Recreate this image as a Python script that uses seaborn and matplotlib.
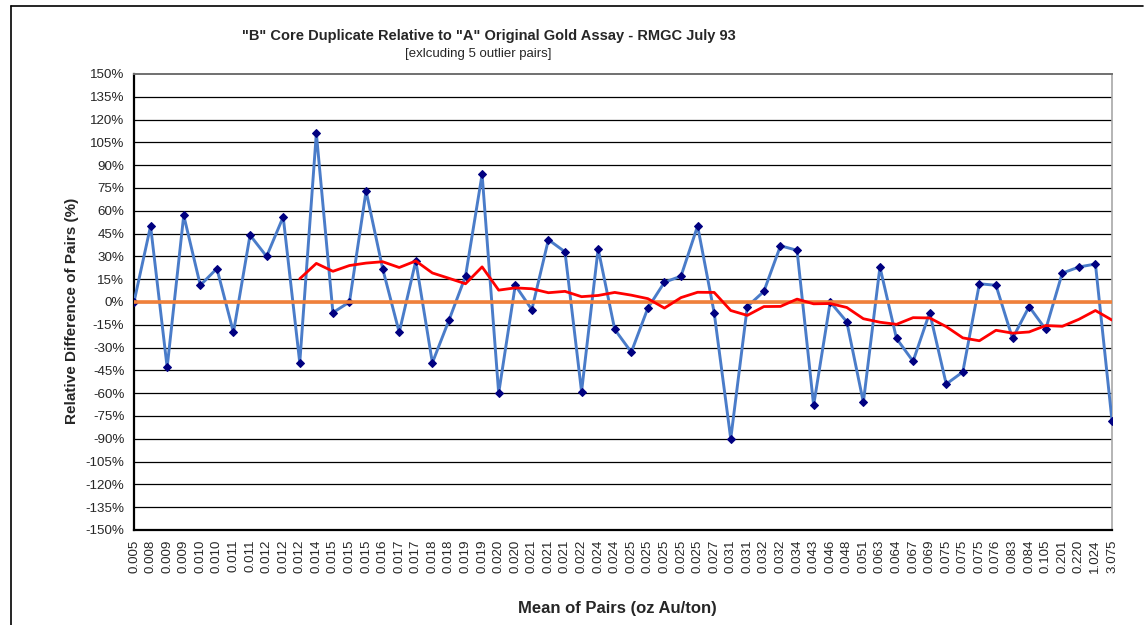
import numpy as np
import pandas as pd
import seaborn as sns
import matplotlib.pyplot as plt
from matplotlib.lines import Line2D

# Category labels (mean of pairs, oz Au/ton)
pair_means = ["0.005", "0.008", "0.009", "0.009", "0.010", "0.010", "0.011", "0.011",
              "0.012", "0.012", "0.012", "0.014", "0.015", "0.015", "0.015", "0.016",
              "0.017", "0.017", "0.018", "0.018", "0.019", "0.019", "0.020", "0.020",
              "0.021", "0.021", "0.021", "0.022", "0.024", "0.024", "0.025", "0.025",
              "0.025", "0.025", "0.025", "0.027", "0.031", "0.031", "0.032", "0.032",
              "0.034", "0.043", "0.046", "0.048", "0.051", "0.063", "0.064", "0.067",
              "0.069", "0.075", "0.075", "0.075", "0.076", "0.083", "0.084", "0.105",
              "0.201", "0.220", "1.024", "3.075"]

# Relative difference of pairs (%)
rel_diff = [0, 50, -43, 57, 11, 22, -20, 44, 30, 56,
            -40, 111, -7, 0, 73, 22, -20, 27, -40, -12,
            17, 84, -60, 11, -5, 41, 33, -59, 35, -18,
            -33, -4, 13, 17, 50, -7, -90, -3, 7, 37,
            34, -68, 0, -13, -66, 23, -24, -39, -7, -54,
            -46, 12, 11, -24, -3, -18, 19, 23, 25, -78]

# Moving average line (starts at the 11th point)
ma_start = 10
moving_avg = [15.3, 25.4, 20.2, 24.0, 25.6, 26.5, 22.7, 27.0, 19.1, 15.6,
              12.0, 23.1, 7.8, 9.3, 8.7, 6.1, 7.0, 3.5, 4.3, 6.3,
              4.5, 2.2, -4.0, 2.9, 6.4, 6.3, -5.6, -8.8, -3.0, -2.9,
              1.9, -1.2, -1.0, -3.6, -11.0, -13.3, -14.7, -10.3, -10.5, -16.2,
              -23.6, -25.5, -18.6, -20.5, -19.7, -15.5, -16.0, -11.4, -5.6, -11.9]

df = pd.DataFrame({"pos": np.arange(len(pair_means)), "diff": rel_diff})
df_ma = pd.DataFrame({"pos": np.arange(ma_start, ma_start + len(moving_avg)), "ma": moving_avg})

sns.set_style("white")
plt.rcParams["font.family"] = ["Liberation Sans", "DejaVu Sans"]

W, H = 1147, 625
fig = plt.figure(figsize=(W / 100, H / 100), dpi=100)
ax = fig.add_axes([134 / W, 1 - 530 / H, 978 / W, 456 / H])

# horizontal gridlines
for v in range(-135, 150, 15):
    ax.axhline(v, color="black", lw=0.9, zorder=1)

sns.lineplot(data=df, x="pos", y="diff", ax=ax, color="#4A7CC9", lw=2.1,
             marker="D", markersize=4, markerfacecolor="#000080",
             markeredgecolor="#000080", zorder=3)
ax.axhline(0, color="#F0803A", lw=2.6, zorder=4)
sns.lineplot(data=df_ma, x="pos", y="ma", ax=ax, color="#FF0000", lw=2.0, zorder=5)

ax.set_xlim(0, len(pair_means) - 1)
ax.set_ylim(-150, 150)
ax.set_yticks(range(-150, 151, 15))
ax.set_yticklabels([f"{v}%" for v in range(-150, 151, 15)], fontsize=9.6)
ax.set_xticks(df["pos"])
ax.set_xticklabels(pair_means, rotation=90, fontsize=9.6)
ax.tick_params(axis="both", direction="out", length=5, width=1.2, color="black", pad=2)

for side in ["left", "bottom"]:
    ax.spines[side].set_color("black")
    ax.spines[side].set_linewidth(1.6)
ax.spines["top"].set_color("#707070")
ax.spines["top"].set_linewidth(1.4)
ax.spines["right"].set_color("#A8A8A8")
ax.spines["right"].set_linewidth(1.2)

ax.set_xlabel("")
ax.set_ylabel("")

fig.text(489 / W, 1 - 36 / H, '"B" Core Duplicate Relative to "A" Original Gold Assay - RMGC July 93',
         ha="center", va="center", fontsize=10.5, fontweight="bold")
fig.text(478 / W, 1 - 54 / H, "[exlcuding 5 outlier pairs]",
         ha="center", va="center", fontsize=9.5)
fig.text(72 / W, 1 - 311 / H, "Relative Difference of Pairs (%)", rotation=90,
         ha="center", va="center", fontsize=11, fontweight="bold")
fig.text(617 / W, 1 - 609 / H, "Mean of Pairs (oz Au/ton)",
         ha="center", va="center", fontsize=12, fontweight="bold")

# chart area frame (top and left edges visible)
fig.add_artist(Line2D([11 / W, 1143 / W], [1 - 6 / H, 1 - 6 / H], color="black", lw=1.2))
fig.add_artist(Line2D([11 / W, 11 / W], [0, 1 - 6 / H], color="black", lw=1.2))

plt.savefig("out.png", dpi=100)
